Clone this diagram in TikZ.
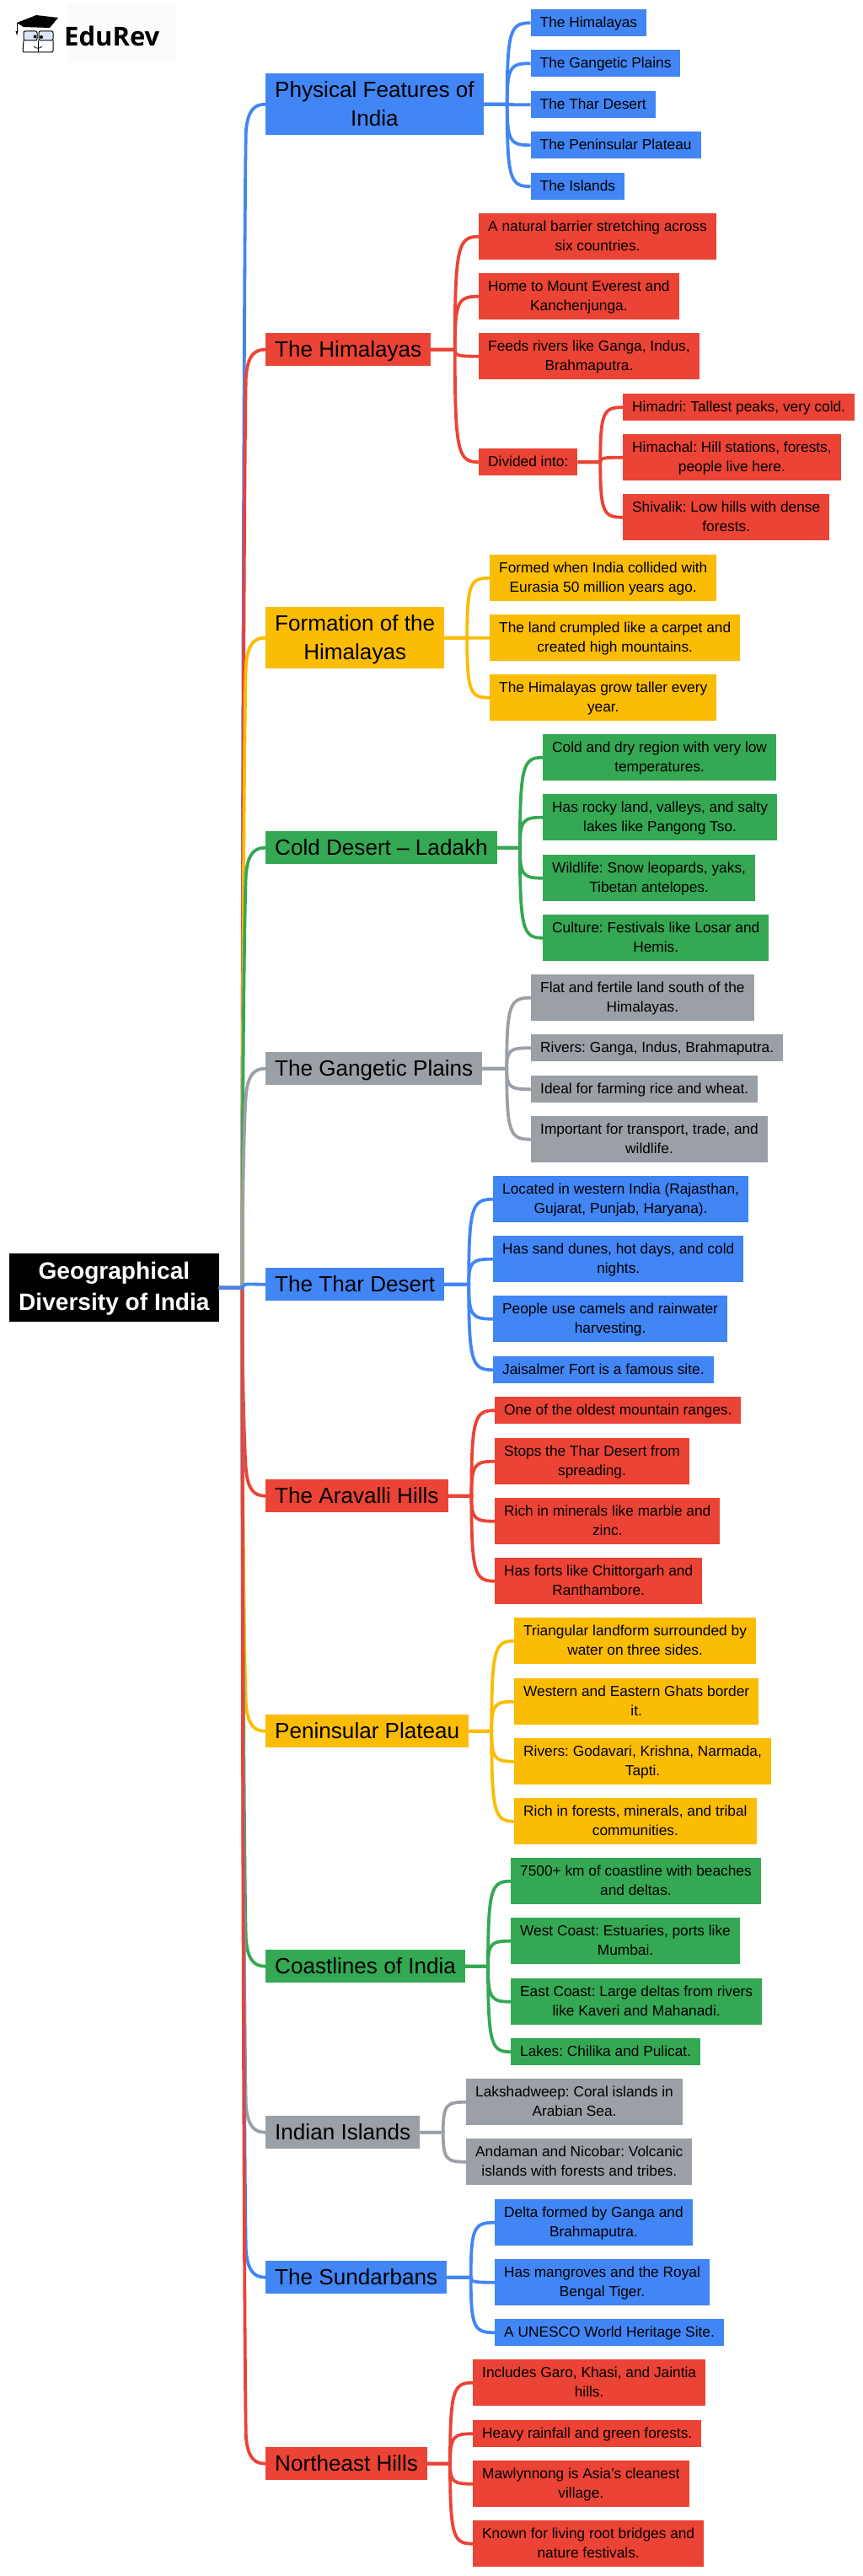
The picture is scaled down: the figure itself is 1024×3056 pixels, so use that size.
\documentclass[tikz,border=0pt]{standalone}
\usepackage{fontspec}
\setmainfont{Liberation Sans}
\newfontfamily\brandfont{Open Sans}
\usetikzlibrary{calc}
\frenchspacing
\definecolor{gblue}{HTML}{4285F4}
\definecolor{gred}{HTML}{EB4335}
\definecolor{gyellow}{HTML}{FBBC04}
\definecolor{ggreen}{HTML}{34A853}
\definecolor{ggray}{HTML}{9AA0A6}
\definecolor{lens}{HTML}{DCE6F5}
\tikzset{
  rootbox/.style={anchor=north west,fill=black,text=white,align=center,inner xsep=11pt,inner ysep=3.5pt,
    font=\fontsize{28.1}{37}\selectfont\bfseries,text height=63.5pt,text depth=10.5pt},
  mainbox/.style={anchor=north west,align=center,inner xsep=11pt,inner ysep=2.5pt,
    font=\fontsize{26.1}{34}\selectfont,text height=26.2pt,text depth=7.8pt},
  maintwo/.style={mainbox,text height=60.2pt},
  leafbox/.style={anchor=north west,align=center,inner xsep=11pt,inner ysep=4.5pt,
    font=\fontsize{17.3}{23}\selectfont,text height=17.2pt,text depth=5.8pt},
  leaftwo/.style={leafbox,text height=40.2pt},
  link/.style={line width=3.8pt},
}
\begin{document}
\begin{tikzpicture}[x=1pt,y=-1pt]
\useasboundingbox (0,0) rectangle (1024,3056);
% logo
\fill[black!1.5] (81,5) rectangle (209,74);
\fill[black] (20,27) -- (43,18) -- (69,21) -- (59,33) -- (28,32) -- cycle;
\draw[black,line width=.8pt] (20,27) -- (20,38);
\fill[black] (18.5,37) -- (21.5,37) -- (20,42) -- cycle;
\draw[black,fill=lens,line width=1pt,rounded corners=2pt] (28,37) rectangle (44,48);
\draw[black,fill=lens,line width=1pt,rounded corners=2pt] (46,37) rectangle (63,48);
\fill[black] (41.5,43.5) circle [radius=2pt];
\fill[black] (49,44) circle [radius=2pt];
\draw[black,line width=1pt,rounded corners=2pt] (28,48) -- (27,62) -- (63,62) -- (63,48);
\draw[black,line width=1pt] (45,48) -- (45,62);
\draw[black,line width=.8pt] (40,55) .. controls (43,58) and (47,58) .. (50,55);
\node[anchor=base west,inner sep=0pt,font=\brandfont\fontsize{31}{31}\selectfont\bfseries] (brand) at (76,55) {EduRev};

% centre and main topics
\node[rootbox] (root) at (11,1487) {Geographical\\Diversity of India};
\coordinate (trunk) at (287.5,1527.7);
\node[maintwo,fill=gblue] (physical) at (315,87) {Physical Features of\\India};
\node[mainbox,fill=gred] (himalayas) at (315,395) {The Himalayas};
\node[maintwo,fill=gyellow] (formation) at (315,720) {Formation of the\\Himalayas};
\node[mainbox,fill=ggreen] (ladakh) at (315,986) {Cold Desert – Ladakh};
\node[mainbox,fill=ggray] (gangetic) at (315,1248) {The Gangetic Plains};
\node[mainbox,fill=gblue] (thar) at (315,1504) {The Thar Desert};
\node[mainbox,fill=gred] (aravalli) at (315,1755) {The Aravalli Hills};
\node[mainbox,fill=gyellow] (plateau) at (315,2034) {Peninsular Plateau};
\node[mainbox,fill=ggreen] (coast) at (315,2313) {Coastlines of India};
\node[mainbox,fill=ggray] (islands) at (315,2510) {Indian Islands};
\node[mainbox,fill=gblue] (sundarbans) at (315,2682) {The Sundarbans};
\node[mainbox,fill=gred] (northeast) at (315,2903) {Northeast Hills};

% leaves
\node[leafbox,fill=gblue] (physA) at (629.5,11) {The Himalayas};
\node[leafbox,fill=gblue] (physB) at (629.5,59) {The Gangetic Plains};
\node[leafbox,fill=gblue] (physC) at (629.5,108) {The Thar Desert};
\node[leafbox,fill=gblue] (physD) at (629.5,156) {The Peninsular Plateau};
\node[leafbox,fill=gblue] (physE) at (629.5,205) {The Islands};

\node[leaftwo,fill=gred] (himaA) at (568,253) {A natural barrier stretching across\\six countries.};
\node[leaftwo,fill=gred] (himaB) at (568,324) {Home to Mount Everest and\\Kanchenjunga.};
\node[leaftwo,fill=gred] (himaC) at (568,395) {Feeds rivers like Ganga, Indus,\\Brahmaputra.};
\node[leafbox,fill=gred] (himaD) at (568,532) {Divided into:};
\node[leafbox,fill=gred] (rangeA) at (739,467) {Himadri: Tallest peaks, very cold.};
\node[leaftwo,fill=gred] (rangeB) at (739,515) {Himachal: Hill stations, forests,\\people live here.};
\node[leaftwo,fill=gred] (rangeC) at (739,586) {Shivalik: Low hills with dense\\forests.};

\node[leaftwo,fill=gyellow] (formA) at (581,658) {Formed when India collided with\\Eurasia 50 million years ago.};
\node[leaftwo,fill=gyellow] (formB) at (581,729) {The land crumpled like a carpet and\\created high mountains.};
\node[leaftwo,fill=gyellow] (formC) at (581,800) {The Himalayas grow taller every\\year.};

\node[leaftwo,fill=ggreen] (ladaA) at (644,871) {Cold and dry region with very low\\temperatures.};
\node[leaftwo,fill=ggreen] (ladaB) at (644,942) {Has rocky land, valleys, and salty\\lakes like Pangong Tso.};
\node[leaftwo,fill=ggreen] (ladaC) at (644,1014) {Wildlife: Snow leopards, yaks,\\Tibetan antelopes.};
\node[leaftwo,fill=ggreen] (ladaD) at (644,1085) {Culture: Festivals like Losar and\\Hemis.};

\node[leaftwo,fill=ggray] (gangA) at (630,1156) {Flat and fertile land south of the\\Himalayas.};
\node[leafbox,fill=ggray] (gangB) at (630,1227) {Rivers: Ganga, Indus, Brahmaputra.};
\node[leafbox,fill=ggray] (gangC) at (630,1276) {Ideal for farming rice and wheat.};
\node[leaftwo,fill=ggray] (gangD) at (630,1324) {Important for transport, trade, and\\wildlife.};

\node[leaftwo,fill=gblue] (tharA) at (585,1395) {Located in western India (Rajasthan,\\Gujarat, Punjab, Haryana).};
\node[leaftwo,fill=gblue] (tharB) at (585,1466) {Has sand dunes, hot days, and cold\\nights.};
\node[leaftwo,fill=gblue] (tharC) at (585,1537) {People use camels and rainwater\\harvesting.};
\node[leafbox,fill=gblue] (tharD) at (585,1609) {Jaisalmer Fort is a famous site.};

\node[leafbox,fill=gred] (araA) at (587,1657) {One of the oldest mountain ranges.};
\node[leaftwo,fill=gred] (araB) at (587,1706) {Stops the Thar Desert from\\spreading.};
\node[leaftwo,fill=gred] (araC) at (587,1777) {Rich in minerals like marble and\\zinc.};
\node[leaftwo,fill=gred] (araD) at (587,1848) {Has forts like Chittorgarh and\\Ranthambore.};

\node[leaftwo,fill=gyellow] (platA) at (610,1919) {Triangular landform surrounded by\\water on three sides.};
\node[leaftwo,fill=gyellow] (platB) at (610,1991) {Western and Eastern Ghats border\\it.};
\node[leaftwo,fill=gyellow] (platC) at (610,2062) {Rivers: Godavari, Krishna, Narmada,\\Tapti.};
\node[leaftwo,fill=gyellow] (platD) at (610,2133) {Rich in forests, minerals, and tribal\\communities.};

\node[leaftwo,fill=ggreen] (coastA) at (606,2204) {7500+ km of coastline with beaches\\and deltas.};
\node[leaftwo,fill=ggreen] (coastB) at (606,2275) {West Coast: Estuaries, ports like\\Mumbai.};
\node[leaftwo,fill=ggreen] (coastC) at (606,2347) {East Coast: Large deltas from rivers\\like Kaveri and Mahanadi.};
\node[leafbox,fill=ggreen] (coastD) at (606,2418) {Lakes: Chilika and Pulicat.};

\node[leaftwo,fill=ggray] (isleA) at (553,2466) {Lakshadweep: Coral islands in\\Arabian Sea.};
\node[leaftwo,fill=ggray] (isleB) at (553,2537) {Andaman and Nicobar: Volcanic\\islands with forests and tribes.};

\node[leaftwo,fill=gblue] (sundA) at (587,2609) {Delta formed by Ganga and\\Brahmaputra.};
\node[leaftwo,fill=gblue] (sundB) at (587,2680) {Has mangroves and the Royal\\Bengal Tiger.};
\node[leafbox,fill=gblue] (sundC) at (587,2751) {A UNESCO World Heritage Site.};

\node[leaftwo,fill=gred] (noreA) at (561,2799) {Includes Garo, Khasi, and Jaintia\\hills.};
\node[leafbox,fill=gred] (noreB) at (561,2871) {Heavy rainfall and green forests.};
\node[leaftwo,fill=gred] (noreC) at (561,2919) {Mawlynnong is Asia's cleanest\\village.};
\node[leaftwo,fill=gred] (noreD) at (561,2990) {Known for living root bridges and\\nature festivals.};

% links from the centre
\foreach \mainnode/\colr in {physical/gblue,himalayas/gred,formation/gyellow,ladakh/ggreen,gangetic/ggray,
    aravalli/gred,plateau/gyellow,coast/ggreen,islands/ggray,sundarbans/gblue,northeast/gred}
  \draw[link,\colr] (root.east) -- (trunk) .. controls ($(trunk)!.5!(trunk |- \mainnode.west)$)
    and ($(trunk |- \mainnode.west)!44pt!(trunk)+(3,0)$) .. ($(trunk |- \mainnode.west)!30pt!(trunk)+(4.5,0)$)
    .. controls ($(trunk |- \mainnode.west)!8pt!(trunk)+(7,0)$) and ($(\mainnode.west)+(-14,0)$) .. (\mainnode.west);
\draw[link,gblue] (root.east) -- (trunk) .. controls ($(trunk)+(2,-4)$) and ($(trunk)+(3,-4.2)$)
  .. ($(trunk)+(6,-4.2)$) -- (thar.west);

% links to the leaves
\foreach \parent/\colr/\kids in {physical/gblue/{physA,physB,physC,physD,physE},
    himalayas/gred/{himaA,himaB,himaC,himaD},himaD/gred/{rangeA,rangeB,rangeC},
    formation/gyellow/{formA,formB,formC},ladakh/ggreen/{ladaA,ladaB,ladaC,ladaD},
    gangetic/ggray/{gangA,gangB,gangC,gangD},thar/gblue/{tharA,tharB,tharC,tharD},
    aravalli/gred/{araA,araB,araC,araD},plateau/gyellow/{platA,platB,platC,platD},
    coast/ggreen/{coastA,coastB,coastC,coastD},islands/ggray/{isleA,isleB},
    sundarbans/gblue/{sundA,sundB,sundC},northeast/gred/{noreA,noreB,noreC,noreD}}
  \foreach \kid in \kids
    \draw[link,\colr] (\parent.east) -- ($(\parent.east)!.5!(\parent.east -| \kid.west)$) coordinate (fork)
      .. controls ($(fork |- \kid.west)!.08!(fork)$) and ($(fork |- \kid.west)+(4,0)$) .. (\kid.west);
\end{tikzpicture}
\end{document}
